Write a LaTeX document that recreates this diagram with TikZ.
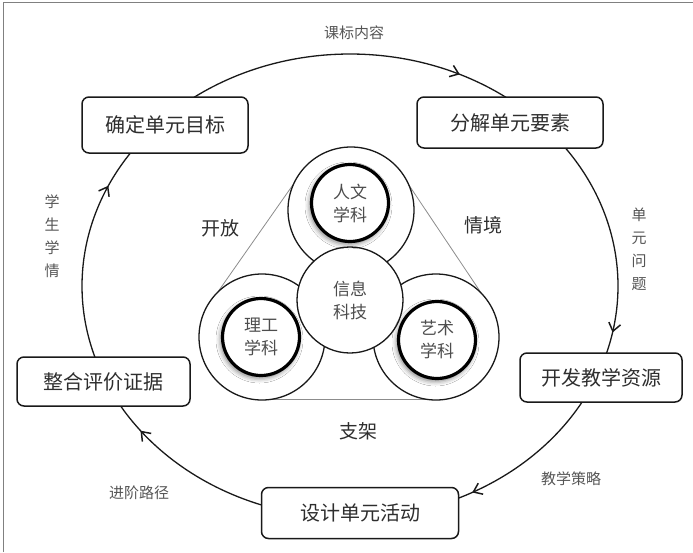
\documentclass[tikz,border=0pt]{standalone}
\usepackage{fontspec}
\setmainfont{Noto Sans CJK SC}
\usetikzlibrary{arrows.meta,decorations.markings,calc,shadows.blur}
\definecolor{txtdark}{HTML}{2E2E2E}
\definecolor{txtlab}{HTML}{555555}
\definecolor{bordergray}{HTML}{808080}
\tikzset{
  x=1pt,y=1pt,
  box/.style={draw=black!90, rounded corners=7pt, fill=white, line width=1.5pt, inner sep=0pt,
    font=\fontsize{20}{22}\selectfont, text=txtdark},
  flow/.style={draw=black!90, line width=1.3pt,
    postaction={decorate, decoration={markings, mark=at position #1 with {\arrow{Straight Barb[length=8pt,width=12pt,line width=1.5pt]}}}}},
  lab/.style={font=\fontsize{15}{23}\selectfont, text=txtlab, align=center, inner sep=0pt},
  midlab/.style={font=\fontsize{19}{21}\selectfont, text=txtdark, inner sep=0pt},
  outerc/.style={circle, draw=black!90, fill=white, line width=1.3pt, minimum size=126pt, inner sep=0pt},
  centerc/.style={circle, draw=black!90, fill=white, line width=1.3pt, minimum size=106pt, inner sep=0pt,
    font=\fontsize{17}{23}\selectfont, text=txtdark!85, align=center},
  innerc/.style={circle, draw=black, fill=white, line width=3.2pt, minimum size=77pt, inner sep=0pt,
    font=\fontsize{17}{23}\selectfont, text=txtdark!85, align=center,
    blur shadow={shadow xshift=-1.5pt, shadow yshift=-2.5pt, shadow blur radius=5pt, shadow opacity=55}},
  tang/.style={draw=black!45, line width=0.8pt}
}
\begin{document}
\begin{tikzpicture}
\useasboundingbox (0,0) rectangle (693,-552);
% frame
\draw[bordergray, line width=0.9pt] (3,-552) -- (3,-2) -- (693,-2);

% ellipse centre
\coordinate (C) at (350,-286);
\coordinate (a1) at ($(C)+(126.5:268 and 232)$);
\coordinate (a2) at ($(C)+(38:268 and 232)$);
\coordinate (a3) at ($(C)+(-30:268 and 232)$);
\coordinate (a4) at ($(C)+(251.5:268 and 232)$);
\coordinate (a5) at ($(C)+(199.5:268 and 232)$);

\draw[flow=0.84] (a1) arc[start angle=126.5, end angle=54, x radius=268, y radius=232];
\draw[flow=0.87] (a2) arc[start angle=38, end angle=-19, x radius=268, y radius=232];
\draw[flow=0.86] (a3) arc[start angle=-30, end angle=-68, x radius=268, y radius=232];
\draw[flow=0.82] (a4) arc[start angle=251.5, end angle=211, x radius=268, y radius=232];
\draw[flow=0.80] (a5) arc[start angle=199.5, end angle=143.5, x radius=268, y radius=232];

% boxes
\node[box, minimum width=166pt, minimum height=56pt] (b1) at (165,-125) {确定单元目标};
\node[box, minimum width=186pt, minimum height=51pt] (b2) at (510,-122.5) {分解单元要素};
\node[box, minimum width=162pt, minimum height=49pt] (b3) at (601,-377.5) {开发教学资源};
\node[box, minimum width=197pt, minimum height=51pt] (b4) at (360,-513) {设计单元活动};
\node[box, minimum width=173pt, minimum height=49pt] (b5) at (103.5,-381.5) {整合评价证据};

% arc labels
\node[lab] (l1) at (354,-33) {课标内容};
\node[lab] (l2) at (639,-249) {单\\元\\问\\题};
\node[lab] (l3) at (571,-479) {教学策略};
\node[lab] (l4) at (139,-493) {进阶路径};
\node[lab] (l5) at (52,-236) {学\\生\\学\\情};

% centre cluster
\coordinate (hc) at (351,-210);
\coordinate (sc) at (262,-337);
\coordinate (ac) at (436,-337);
\draw[tang] ($(hc)!62pt!-90:(sc)$) -- ($(sc)!62pt!90:(hc)$);
\draw[tang] ($(hc)!62pt!90:(ac)$) -- ($(ac)!62pt!-90:(hc)$);
\draw[tang] ($(sc)!62pt!-90:(ac)$) -- ($(ac)!62pt!90:(sc)$);

\node[outerc] (hum) at (hc) {};
\node[outerc] (sci) at (sc) {};
\node[outerc] (art) at (ac) {};
\node[centerc] (it) at (350,-300) {信息\\科技};

\node[innerc] (humi) at (350,-203) {人文\\学科};
\node[innerc] (scii) at (261,-337) {理工\\学科};
\node[innerc] (arti) at (437,-340) {艺术\\学科};

\node[midlab] (m1) at (220,-228) {开放};
\node[midlab] (m2) at (483,-225) {情境};
\node[midlab] (m3) at (358,-431) {支架};
\end{tikzpicture}
\end{document}
